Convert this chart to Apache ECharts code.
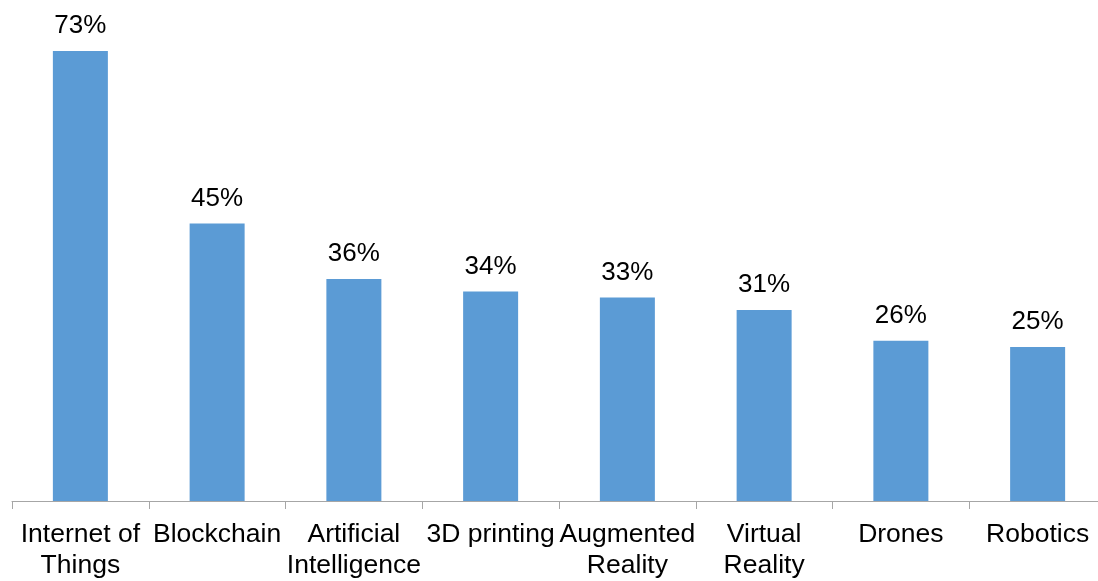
<!DOCTYPE html>
<html>
<head>
<meta charset="utf-8">
<script src="https://cdn.jsdelivr.net/npm/echarts@6/dist/echarts.min.js"></script>
<style>
  html, body { margin: 0; padding: 0; background: #fff; overflow: hidden; }
  /* the source chart's axis runs a little past the right edge of the picture */
  #chart { width: 1106px; height: 581px; }
</style>
</head>
<body>
<div id="chart"></div>
<script>
// categories and values
var categories = ["Internet of\nThings", "Blockchain", "Artificial\nIntelligence", "3D printing",
  "Augmented\nReality", "Virtual\nReality", "Drones", "Robotics"];
var shares = [73, 45, 36, 34, 33, 31, 26, 25];

var chart = echarts.init(document.getElementById("chart"));
chart.setOption({
  animation: false,
  textStyle: { fontFamily: "Liberation Sans, Arial, sans-serif" },
  grid: { left: 12, right: 0, top: 51, bottom: 79, containLabel: false },
  xAxis: {
    type: "category",
    data: categories,
    axisLine: { lineStyle: { color: "#a6a6a6", width: 1 } },
    axisTick: { show: true, length: 8, lineStyle: { color: "#a6a6a6" } },
    axisLabel: {
      interval: 0,
      color: "#000",
      fontSize: 26.5,
      lineHeight: 31,
      margin: 18,
      hideOverlap: false
    }
  },
  yAxis: {
    type: "value",
    min: 0,
    max: 73,
    show: false,
    splitLine: { show: false }
  },
  series: [
    {
      type: "bar",
      data: shares,
      barWidth: 55,
      itemStyle: { color: "#5b9bd5" },
      label: {
        show: true,
        position: "top",
        distance: 12,
        color: "#000",
        fontSize: 26,
        formatter: "{c}%"
      }
    }
  ]
});
</script>
</body>
</html>
